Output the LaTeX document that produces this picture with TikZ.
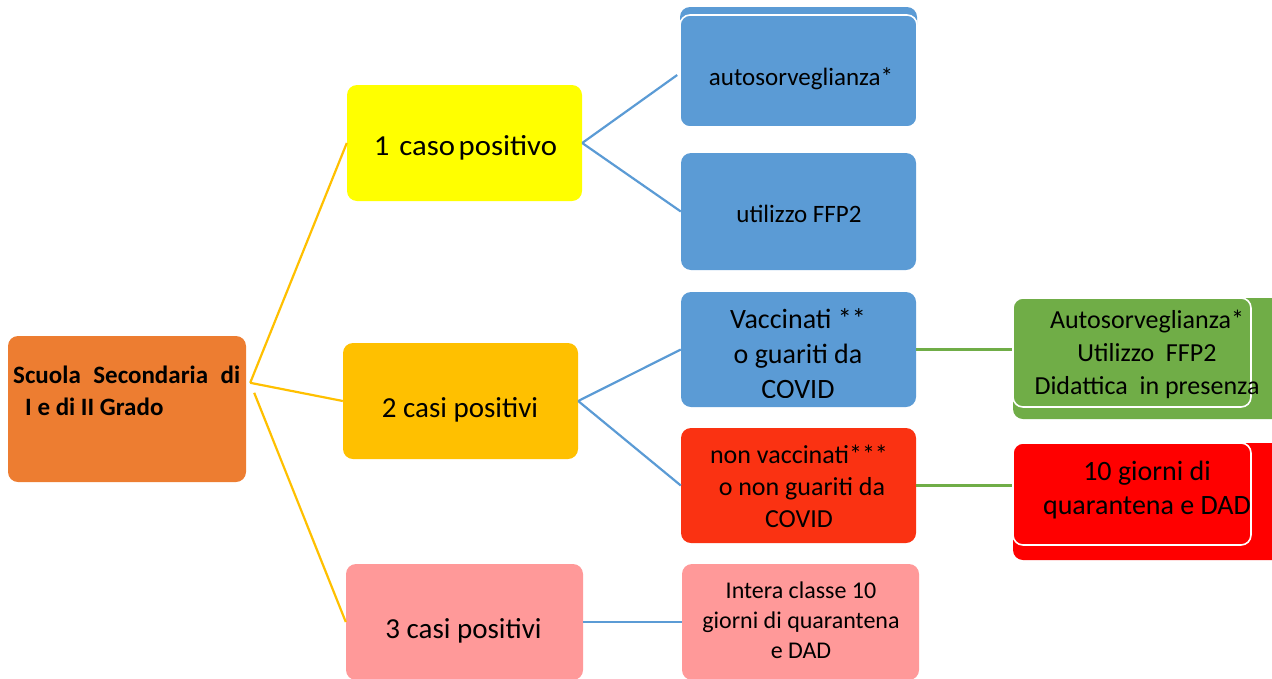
\documentclass[tikz,border=0pt]{standalone}
\usepackage{fontspec}
\setmainfont{Carlito}
\usepackage{graphicx}
\usetikzlibrary{calc}
\definecolor{cOrange}{HTML}{ED7D31}
\definecolor{cYellow}{HTML}{FFFF00}
\definecolor{cGold}{HTML}{FFC000}
\definecolor{cPink}{HTML}{FF9999}
\definecolor{cBlue}{HTML}{5B9BD5}
\definecolor{cRedOr}{HTML}{FA3212}
\definecolor{cGreen}{HTML}{70AD47}
\definecolor{cRed}{HTML}{FF0000}
\newcommand{\mlines}[1]{\begin{tabular}[t]{@{}c@{}}#1\end{tabular}}
\newcommand{\fsz}[2]{\fontsize{#1}{#2}\selectfont}
\begin{document}
\begin{tikzpicture}[x=1pt,y=-1pt,
  box/.style={rectangle, rounded corners=10pt, inner sep=0pt, draw=none},
  front/.style={box, draw=white, line width=1.6pt},
  txt/.style={inner sep=0pt, anchor=base, text=black},
  conn/.style={line width=2.2pt},
]
\useasboundingbox (0,0) rectangle (1272,678);
\clip (0,0) rectangle (1272,678);

% level 0
\node[box, fill=cOrange, minimum width=238, minimum height=146] (root) at (127,409) {};
% level 1
\node[box, fill=cYellow, minimum width=235, minimum height=116] (c1) at (464.5,143) {};
\node[box, fill=cGold, minimum width=235, minimum height=116] (c2) at (460.5,401) {};
\node[box, fill=cPink, minimum width=237, minimum height=116] (c3) at (464.5,622) {};
% level 2
\node[box, fill=cBlue, minimum width=237, minimum height=113] (autoback) at (798.5,63.5) {};
\node[front, fill=cBlue, minimum width=237, minimum height=112] (auto) at (798.5,71) {};
\node[box, fill=cBlue, minimum width=235, minimum height=117] (ffp) at (798.5,211.5) {};
\node[box, fill=cBlue, minimum width=235, minimum height=115] (vacc) at (798.5,349.5) {};
\node[box, fill=cRedOr, minimum width=235, minimum height=115] (nonvacc) at (798.5,485.5) {};
\node[box, fill=cPink, minimum width=237, minimum height=116] (intera) at (800.5,622) {};
% level 3
\node[box, fill=cGreen, minimum width=277, minimum height=121] (greenback) at (1151.5,358.5) {};
\node[front, fill=cGreen, minimum width=238, minimum height=109] (greenf) at (1132,352.5) {};
\node[box, fill=cRed, minimum width=277, minimum height=117] (redback) at (1151.5,501.5) {};
\node[front, fill=cRed, minimum width=238, minimum height=102] (redf) at (1132,494) {};

% connectors
\draw[conn, draw=cGold] ($(root.north east)+(4,47)$) -- (c1.west);
\draw[conn, draw=cGold] ($(root.north east)+(4,47)$) -- (c2.west);
\draw[conn, draw=cGold] ($(root.north east)+(8,57)$) -- (c3.west);
\draw[conn, draw=cBlue] (c1.east) -- ($(auto.west)+(-2,4)$);
\draw[conn, draw=cBlue] (c1.east) -- (ffp.west);
\draw[conn, draw=cBlue] (c2.east) -- (vacc.west);
\draw[conn, draw=cBlue] (c2.east) -- (nonvacc.west);
\draw[conn, draw=cBlue] (c3.east) -- (intera.west);
\draw[conn, draw=cGreen] (vacc.east) -- (vacc.east -| greenf.west);
\draw[conn, draw=cGreen] (nonvacc.east) -- (nonvacc.east -| redf.west);

% texts
\node[txt, anchor=base west, font=\bfseries\fsz{25}{32}] (roott) at (13,383)
  {\begin{tabular}[t]{@{}l@{}}Scuola\hspace{0.5em}Secondaria\hspace{0.5em}di\\ \hspace*{12pt}I e di II Grado\end{tabular}};
\node[txt, font=\fsz{29}{35}] (c1t) at (465.5,155) {\scalebox{1.06}[1]{1\hspace{0.32em}caso\hspace{0.12em}positivo}};
\node[txt, font=\fsz{29}{35}] (c2t) at (460,417) {2 casi positivi};
\node[txt, font=\fsz{29}{35}] (c3t) at (463.5,638) {3 casi positivi};
\node[txt, font=\fsz{25}{31}] (autot) at (801,85) {autosorveglianza*};
\node[txt, font=\fsz{25}{31}] (ffpt) at (799,222) {utilizzo FFP2};
\begin{scope}
  \clip (681,292) rectangle (916,397);
  \node[txt, font=\fsz{28}{35}] (vacct) at (798,328) {\mlines{Vaccinati **\\ o guariti da\\ COVID}};
\end{scope}
\node[txt, font=\fsz{26}{32}] (nonvacct) at (799,463) {\mlines{non vaccinati***\\ \ o non guariti da\\ COVID}};
\node[txt, font=\fsz{24}{30}] (interat) at (801,598) {\mlines{Intera classe 10\\ giorni di quarantena\\ e DAD}};
\node[txt, font=\fsz{26}{33}] (greent) at (1147,328) {\mlines{Autosorveglianza*\\ Utilizzo\ \ FFP2\\ Didattica\ \ in presenza}};
\node[txt, font=\fsz{28}{34}] (redt) at (1147,480) {\mlines{10 giorni di\\ quarantena e DAD}};
\end{tikzpicture}
\end{document}
